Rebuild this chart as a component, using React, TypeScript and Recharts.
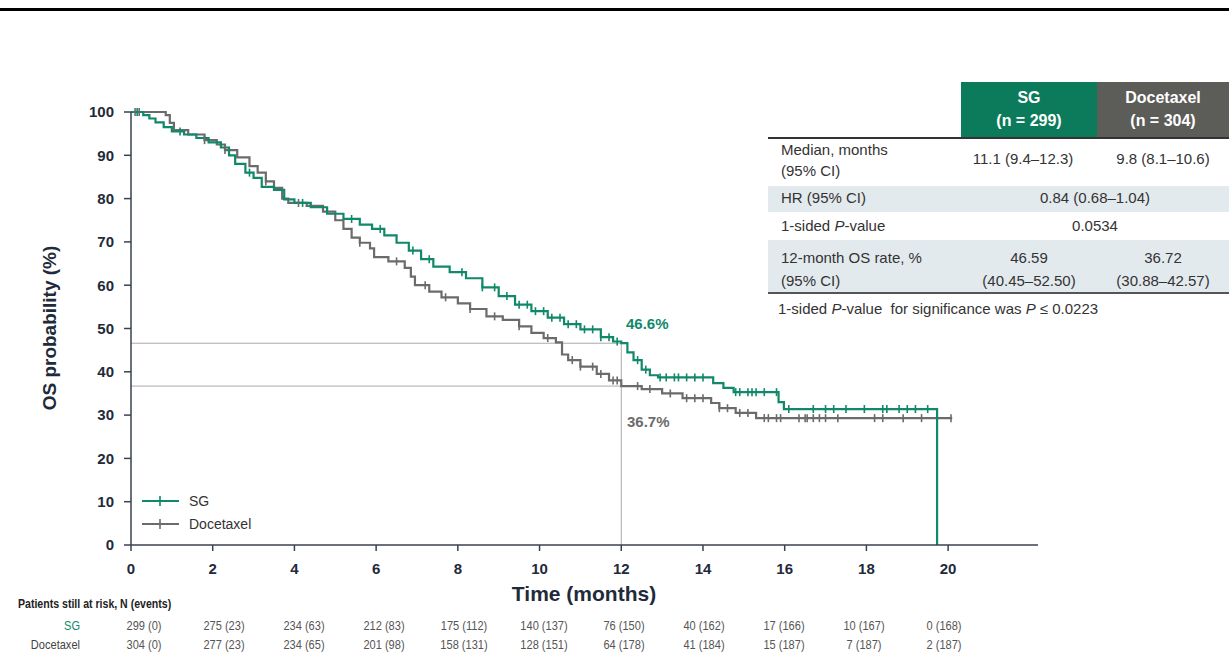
import React from "react";
import {
  ComposedChart,
  Line,
  XAxis,
  YAxis,
  ReferenceLine,
} from "recharts";

const FONT = "Arial, 'Liberation Sans', sans-serif";
const GREEN = "#10886a";
const GRAY = "#6b6b6b";
const AXIS = "#3a4150";

// Kaplan-Meier steps: [month, OS %]
const sgSteps: [number, number][] = [
  [0, 100], [0.3, 99.3], [0.45, 98.5], [0.6, 97.6], [0.8, 96.5], [1.0, 95.5],
  [1.3, 94.8], [1.6, 94], [1.9, 93], [2.2, 91.8], [2.4, 90], [2.55, 88],
  [2.8, 86], [3.0, 84.8], [3.2, 82.7], [3.5, 82], [3.75, 79.8], [4.0, 79],
  [4.4, 78], [4.8, 76.5], [5.2, 75.3], [5.6, 74], [5.9, 73], [6.2, 71.5],
  [6.5, 69.8], [6.8, 68], [7.1, 66], [7.4, 64.3], [7.8, 63], [8.2, 61.6],
  [8.6, 59.5], [9.0, 57.5], [9.4, 55.5], [9.8, 54], [10.2, 52.5], [10.6, 51],
  [11.0, 49.8], [11.5, 48], [11.8, 47], [12.0, 46.6], [12.15, 44.5],
  [12.3, 42.7], [12.5, 40.5], [12.7, 39.2], [12.9, 38.7], [14.25, 37.4],
  [14.5, 36.3], [14.75, 35.3], [15.85, 33], [15.98, 31.4], [19.73, 0],
];

const docSteps: [number, number][] = [
  [0, 100], [0.85, 99.3], [0.95, 97.5], [1.05, 95.8], [1.4, 94.8], [1.8, 93.5],
  [2.1, 92.5], [2.3, 91.2], [2.6, 89.5], [2.9, 87.5], [3.1, 86], [3.3, 84],
  [3.5, 82.5], [3.7, 80], [3.85, 79], [4.3, 78.3], [4.7, 77], [5.0, 75],
  [5.2, 73], [5.4, 71], [5.6, 69.8], [5.85, 68.5], [5.95, 66.5], [6.3, 65.5],
  [6.7, 64], [6.85, 62], [6.95, 60], [7.3, 58.5], [7.6, 57.2], [8.0, 55.8],
  [8.3, 54.5], [8.7, 52.8], [9.1, 52], [9.5, 50.5], [9.8, 49], [10.1, 47.8],
  [10.4, 46.8], [10.55, 44], [10.7, 42.7], [11.0, 41.2], [11.4, 39.5],
  [11.7, 38], [12.0, 36.7], [12.5, 36], [13.0, 35], [13.5, 33.9], [14.2, 32.8],
  [14.4, 31.6], [14.8, 30.5], [15.3, 29.3], [20.1, 29.3],
];

// censoring times (months)
const sgCensored = [
  0.15, 1.2, 2.9, 4.2, 5.4, 6.1, 6.9, 7.3, 8.1, 8.6, 8.9, 9.2, 9.5, 9.7, 9.9,
  10.1, 10.3, 10.5, 10.7, 10.9, 11.1, 11.3, 11.5, 11.7, 11.9, 12.4, 12.6, 12.95,
  13.1, 13.3, 13.4, 13.6, 13.8, 14.0, 14.8, 14.9, 15.1, 15.2, 15.3, 15.5, 15.8,
  16.1, 16.7, 17.0, 17.2, 17.5, 17.95, 18.4, 18.5, 18.8, 19.0, 19.2, 19.5,
];
const docCensored = [
  0.1, 0.2, 1.8, 2.3, 3.3, 4.1, 5.6, 6.5, 7.2, 7.7, 8.3, 8.9, 9.5, 10.2, 10.8,
  11.0, 11.3, 11.5, 11.8, 11.9, 12.4, 12.7, 13.2, 13.6, 13.8, 14.0, 14.4, 14.6,
  14.9, 15.1, 15.5, 15.6, 15.8, 15.9, 16.35, 16.5, 16.55, 16.7, 16.85, 17.0,
  17.3, 18.2, 18.4, 18.9, 19.35, 20.07,
];

const xTicks = [0, 2, 4, 6, 8, 10, 12, 14, 16, 18, 20];
const yTicks = [0, 10, 20, 30, 40, 50, 60, 70, 80, 90, 100];

const landmarkMonth = 12;
const sgAt12 = 46.6;
const docAt12 = 36.7;

const riskSG = ["299 (0)", "275 (23)", "234 (63)", "212 (83)", "175 (112)", "140 (137)", "76 (150)", "40 (162)", "17 (166)", "10 (167)", "0 (168)"];
const riskDoc = ["304 (0)", "277 (23)", "234 (65)", "201 (98)", "158 (131)", "128 (151)", "64 (178)", "41 (184)", "15 (187)", "7 (187)", "2 (187)"];

const tableHeader = [
  { label: "SG", n: "(n = 299)", color: "#0b7b5b" },
  { label: "Docetaxel", n: "(n = 304)", color: "#5c5c58" },
];
const medianRow = ["11.1 (9.4–12.3)", "9.8 (8.1–10.6)"];
const hrValue = "0.84 (0.68–1.04)";
const pValue = "0.0534";
const rate12 = [
  ["46.59", "(40.45–52.50)"],
  ["36.72", "(30.88–42.57)"],
];

const toPoints = (steps: [number, number][]) => steps.map(([t, s]) => ({ t, s }));
const survAt = (steps: [number, number][], t: number) => {
  let s = steps[0][1];
  for (const [tt, ss] of steps) if (tt <= t) s = ss;
  return s;
};
const censorPoints = (steps: [number, number][], times: number[]) =>
  times.map((t) => ({ t, s: survAt(steps, t) }));

const tickMark = (color: string) => (props: any) => {
  const { cx, cy, index } = props;
  if (cx == null || cy == null) return <g key={index} />;
  return <line key={index} x1={cx} x2={cx} y1={cy - 4} y2={cy + 4} stroke={color} strokeWidth={1.6} />;
};

const legendItems = [
  { name: "SG", color: GREEN },
  { name: "Docetaxel", color: GRAY },
];

function LegendBox() {
  return (
    <div style={{ position: "absolute", left: 141, top: 489, fontFamily: FONT, fontSize: 14, color: "#333" }}>
      {legendItems.map((it) => (
        <div key={it.name} style={{ display: "flex", alignItems: "center", height: 23 }}>
          <svg width={40} height={12} style={{ marginRight: 8 }}>
            <line x1={1} x2={38} y1={6} y2={6} stroke={it.color} strokeWidth={2} />
            <line x1={19} x2={19} y1={1} y2={11} stroke={it.color} strokeWidth={1.6} />
          </svg>
          <span>{it.name}</span>
        </div>
      ))}
    </div>
  );
}

const abs = (s: React.CSSProperties): React.CSSProperties => ({ position: "absolute", ...s });

export default function App() {
  const tickStyle = { fill: "#1f2a3a", fontSize: 15, fontWeight: 700, fontFamily: FONT };
  return (
    <div style={abs({ left: 0, top: 0, width: 1229, height: 653, background: "#fff", fontFamily: FONT, overflow: "hidden" })}>
      <div style={abs({ left: 0, top: 8, width: 1229, height: 3, background: "#000" })} />

      <div style={abs({ left: 0, top: 0 })}>
        <ComposedChart width={1229} height={653} margin={{ top: 112, right: 191, bottom: 68, left: 71 }}>
          <XAxis
            dataKey="t"
            type="number"
            domain={[0, 22.2]}
            ticks={xTicks}
            allowDataOverflow
            height={40}
            stroke={AXIS}
            strokeWidth={1.5}
            tickSize={6}
            tickMargin={12}
            tick={tickStyle}
          />
          <YAxis
            dataKey="s"
            type="number"
            domain={[0, 100]}
            ticks={yTicks}
            width={60}
            stroke={AXIS}
            strokeWidth={1.5}
            tickSize={7}
            tickMargin={10}
            tick={tickStyle}
          />
          <ReferenceLine segment={[{ x: 0, y: sgAt12 }, { x: landmarkMonth, y: sgAt12 }]} stroke="#a9a9a9" strokeWidth={1} />
          <ReferenceLine segment={[{ x: 0, y: docAt12 }, { x: landmarkMonth, y: docAt12 }]} stroke="#a9a9a9" strokeWidth={1} />
          <ReferenceLine segment={[{ x: landmarkMonth, y: 0 }, { x: landmarkMonth, y: sgAt12 }]} stroke="#a9a9a9" strokeWidth={1} />
          <Line data={toPoints(docSteps)} dataKey="s" type="stepAfter" stroke={GRAY} strokeWidth={2.2} dot={false} activeDot={false} isAnimationActive={false} />
          <Line data={censorPoints(docSteps, docCensored)} dataKey="s" stroke="none" dot={tickMark(GRAY)} activeDot={false} isAnimationActive={false} legendType="none" />
          <Line data={toPoints(sgSteps)} dataKey="s" type="stepAfter" stroke={GREEN} strokeWidth={2.2} dot={false} activeDot={false} isAnimationActive={false} />
          <Line data={censorPoints(sgSteps, sgCensored)} dataKey="s" stroke="none" dot={tickMark(GREEN)} activeDot={false} isAnimationActive={false} legendType="none" />
        </ComposedChart>
      </div>

      <LegendBox />

      <div style={abs({ left: 50, top: 328, transform: "translate(-50%, -50%) rotate(-90deg)", whiteSpace: "nowrap", fontSize: 19, fontWeight: 700, color: "#1f2a3a" })}>
        OS probability (%)
      </div>
      <div style={abs({ left: 584, top: 594, transform: "translate(-50%, -50%)", whiteSpace: "nowrap", fontSize: 21, fontWeight: 700, color: "#1f2a3a" })}>
        Time (months)
      </div>

      <div style={abs({ left: 626, top: 315, fontSize: 15, fontWeight: 700, color: GREEN })}>{sgAt12.toFixed(1)}%</div>
      <div style={abs({ left: 627, top: 413, fontSize: 15, fontWeight: 700, color: GRAY })}>{docAt12.toFixed(1)}%</div>

      {/* summary table */}
      <div style={abs({ left: 961, top: 82, width: 136, height: 55, background: tableHeader[0].color })} />
      <div style={abs({ left: 1097, top: 82, width: 132, height: 55, background: tableHeader[1].color })} />
      {tableHeader.map((h, i) => (
        <div key={h.label} style={abs({ left: i === 0 ? 961 : 1097, top: 86, width: i === 0 ? 136 : 132, textAlign: "center", color: "#fff", fontWeight: 700, fontSize: 16, lineHeight: "23px" })}>
          <div>{h.label}</div>
          <div>{h.n}</div>
        </div>
      ))}
      <div style={abs({ left: 768, top: 137, width: 461, height: 2, background: "#333" })} />
      <div style={abs({ left: 768, top: 186, width: 461, height: 26, background: "#e3eaee" })} />
      <div style={abs({ left: 768, top: 240, width: 461, height: 52, background: "#e3eaee" })} />
      <div style={abs({ left: 768, top: 292, width: 461, height: 2, background: "#555" })} />

      <div style={abs({ left: 781, top: 139, fontSize: 15, color: "#333", lineHeight: "21px" })}>
        Median, months<br />(95% CI)
      </div>
      <div style={abs({ left: 955, top: 150, width: 136, textAlign: "center", fontSize: 15, color: "#333" })}>{medianRow[0]}</div>
      <div style={abs({ left: 1097, top: 150, width: 132, textAlign: "center", fontSize: 15, color: "#333" })}>{medianRow[1]}</div>

      <div style={abs({ left: 781, top: 189, fontSize: 15, color: "#333" })}>HR (95% CI)</div>
      <div style={abs({ left: 961, top: 189, width: 268, textAlign: "center", fontSize: 15, color: "#333" })}>{hrValue}</div>

      <div style={abs({ left: 781, top: 217, fontSize: 15, color: "#333" })}>1-sided <i>P</i>-value</div>
      <div style={abs({ left: 961, top: 217, width: 268, textAlign: "center", fontSize: 15, color: "#333" })}>{pValue}</div>

      <div style={abs({ left: 781, top: 246, fontSize: 15, color: "#333", lineHeight: "23px" })}>
        12-month OS rate, %<br />(95% CI)
      </div>
      {rate12.map((r, i) => (
        <div key={i} style={abs({ left: i === 0 ? 961 : 1097, top: 246, width: i === 0 ? 136 : 132, textAlign: "center", fontSize: 15, color: "#333", lineHeight: "23px" })}>
          {r[0]}<br />{r[1]}
        </div>
      ))}
      <div style={abs({ left: 778, top: 300, fontSize: 15, color: "#333", whiteSpace: "nowrap" })}>
        1-sided <i>P</i>-value&nbsp; for significance was <i>P</i> ≤ 0.0223
      </div>

      {/* patients at risk */}
      <div style={abs({ left: 18, top: 597, fontSize: 12, fontWeight: 700, color: "#222", whiteSpace: "nowrap", transform: "scaleX(0.88)", transformOrigin: "left center" })}>
        Patients still at risk, N (events)
      </div>
      <div style={abs({ left: 20, top: 618, width: 60, textAlign: "right", fontSize: 13, color: GREEN, transform: "scaleX(0.85)", transformOrigin: "right center" })}>SG</div>
      <div style={abs({ left: 20, top: 637, width: 60, textAlign: "right", fontSize: 13, color: "#444", transform: "scaleX(0.85)", transformOrigin: "right center" })}>Docetaxel</div>
      {riskSG.map((v, i) => (
        <div key={"s" + i} style={abs({ left: 144 + i * 80, top: 618, transform: "translateX(-50%) scaleX(0.85)", fontSize: 13, color: "#555", whiteSpace: "nowrap" })}>{v}</div>
      ))}
      {riskDoc.map((v, i) => (
        <div key={"d" + i} style={abs({ left: 144 + i * 80, top: 637, transform: "translateX(-50%) scaleX(0.85)", fontSize: 13, color: "#555", whiteSpace: "nowrap" })}>{v}</div>
      ))}
    </div>
  );
}
